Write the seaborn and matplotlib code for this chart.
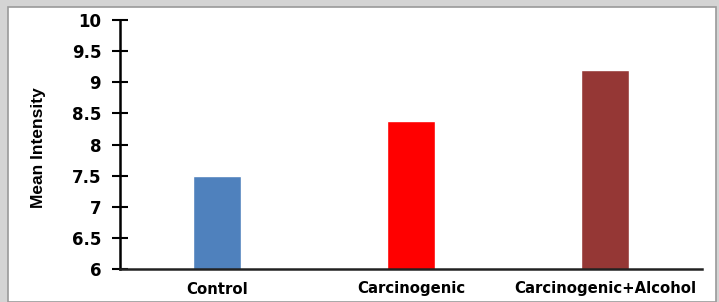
import pandas as pd
import seaborn as sns
import matplotlib.pyplot as plt
from matplotlib.patches import Rectangle

# data
groups = ["Control", "Carcinogenic", "Carcinogenic+Alcohol"]
mean_intensity = [7.5, 8.37, 9.19]
bar_colors = ["#4F81BD", "#FF0000", "#953735"]
y_ticks = [6, 6.5, 7, 7.5, 8, 8.5, 9, 9.5, 10]
y_tick_labels = ["6", "6.5", "7", "7.5", "8", "8.5", "9", "9.5", "10"]

df = pd.DataFrame({"group": groups, "value": mean_intensity})

sns.set_style("white")
plt.rcParams["font.family"] = ["DejaVu Sans"]

W, H = 719, 302
fig = plt.figure(figsize=(W / 100, H / 100), dpi=100, facecolor="#d4d4d4")

# white panel with grey frame, behind the axes
fig.patches.append(Rectangle((8 / W, 0), (716 - 8) / W, (H - 7) / H,
                             transform=fig.transFigure, facecolor="white",
                             edgecolor="#9a9a9a", linewidth=1.2, zorder=-5))

ax = fig.add_axes([120 / W, (H - 269) / H, (702 - 120) / W, (269 - 20) / H])
ax.set_facecolor("none")

sns.barplot(data=df, x="group", y="value", hue="group", palette=bar_colors,
            width=0.25, saturation=1, legend=False, ax=ax)

ax.set_ylim(6, 10)
ax.set_xlim(-0.5, 2.5)
ax.set_yticks(y_ticks)
ax.set_yticklabels(y_tick_labels, fontsize=12, fontweight="bold", color="black")
ax.tick_params(axis="y", direction="inout", length=11, width=1.5, left=True,
               pad=8, colors="black")
ax.tick_params(axis="x", length=0, pad=9, colors="black")
for lbl in ax.get_xticklabels():
    lbl.set_fontsize(10.7)
    lbl.set_fontweight("bold")

ax.set_xlabel("")
ax.set_ylabel("Mean Intensity", fontsize=12.5, fontweight="bold", color="black",
              family=["Liberation Sans", "DejaVu Sans"])
ax.yaxis.set_label_coords(-0.127, 0.486)

for side in ["top", "right"]:
    ax.spines[side].set_visible(False)
ax.spines["left"].set_linewidth(1.8)
ax.spines["bottom"].set_linewidth(1.8)
ax.spines["left"].set_color("black")
ax.spines["bottom"].set_color("#222222")

fig.savefig("out.png", dpi=100, facecolor=fig.get_facecolor())
